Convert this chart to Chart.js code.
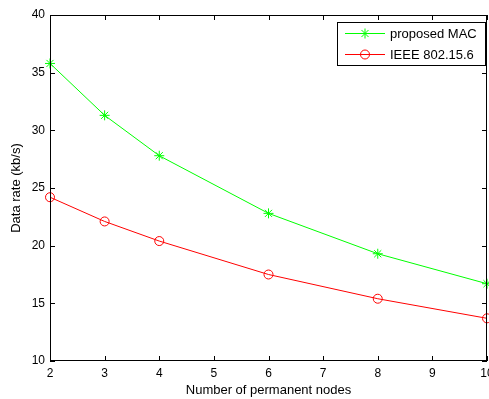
<html>
<head>
<script src="https://cdn.jsdelivr.net/npm/chart.js"></script>
</head>
<body style="margin:0;overflow:hidden;background:#fff">
<canvas id="myChart" width="510" height="399" style="display:block"></canvas>
<script>
  // data rate vs number of permanent nodes
  const nodes = [2, 3, 4, 6, 8, 10];
  const proposedMac = [35.8, 31.3, 27.8, 22.8, 19.3, 16.7];
  const ieee = [24.2, 22.1, 20.4, 17.5, 15.4, 13.7];
  const seriesLabels = ['proposed MAC', 'IEEE 802.15.6'];
  const seriesColors = ['#00ff00', '#ff0000'];
  const seriesMarkers = ['star', 'circle'];

  const family = '"Liberation Sans", Arial, sans-serif';
  const tickFont = {family: family, size: 12};
  const titleFont = {family: family, size: 13};

  // matlab style box with inward ticks on all four sides
  const boxPlugin = {
    id: 'box',
    afterDraw(chart) {
      const c = chart.ctx, a = chart.chartArea;
      const xs = chart.scales.x, ys = chart.scales.y;
      c.save();
      c.strokeStyle = '#000';
      c.lineWidth = 1;
      c.strokeRect(a.left + 0.5, a.top + 0.5, a.right - a.left - 1, a.bottom - a.top - 1);
      c.beginPath();
      xs.ticks.forEach(t => {
        let px = Math.round(xs.getPixelForValue(t.value)) + 0.5;
        c.moveTo(px, a.bottom); c.lineTo(px, a.bottom - 5);
        c.moveTo(px, a.top); c.lineTo(px, a.top + 5);
      });
      ys.ticks.forEach(t => {
        let py = Math.round(ys.getPixelForValue(t.value)) + 0.5;
        c.moveTo(a.left, py); c.lineTo(a.left + 5, py);
        c.moveTo(a.right, py); c.lineTo(a.right - 5, py);
      });
      c.stroke();
      c.restore();
    }
  };

  const legendPlugin = {
    id: 'boxLegend',
    afterDraw(chart) {
      const c = chart.ctx, a = chart.chartArea;
      const w = 148, h = 43;
      const x0 = a.right - w - 2, y0 = a.top + 7;
      c.save();
      c.fillStyle = '#fff';
      c.fillRect(x0, y0, w, h);
      c.strokeStyle = '#000';
      c.lineWidth = 1;
      c.strokeRect(x0 + 0.5, y0 + 0.5, w, h);
      c.font = '13px ' + family;
      c.textBaseline = 'middle';
      chart.data.datasets.forEach((ds, i) => {
        const ly = y0 + 11 + i * 21;
        c.strokeStyle = ds.borderColor;
        c.fillStyle = 'rgba(0,0,0,0)';
        c.beginPath();
        c.moveTo(x0 + 8, ly + 0.5); c.lineTo(x0 + 48, ly + 0.5);
        c.stroke();
        Chart.helpers.drawPoint(c, {
          pointStyle: ds.pointStyle, radius: ds.pointRadius, borderWidth: 1, rotation: 0
        }, x0 + 28, ly + 0.5);
        c.fillStyle = '#000';
        c.fillText(ds.label, x0 + 53, ly + 1);
      });
      c.restore();
    }
  };

  const datasets = [proposedMac, ieee].map((vals, i) => ({
    label: seriesLabels[i],
    data: nodes.map((n, j) => ({x: n, y: vals[j]})),
    borderColor: seriesColors[i],
    backgroundColor: 'rgba(0,0,0,0)',
    pointStyle: seriesMarkers[i],
    pointRadius: i === 0 ? 5 : 4.5,
    pointBorderWidth: 1,
    borderWidth: 1,
    tension: 0,
    clip: false
  }));

  new Chart(document.getElementById('myChart'), {
    type: 'line',
    data: {datasets: datasets},
    plugins: [boxPlugin, legendPlugin],
    options: {
      responsive: false,
      animation: false,
      layout: {padding: {top: 15, right: 23, left: 0, bottom: 0}},
      plugins: {legend: {display: false}, tooltip: {enabled: false}},
      scales: {
        x: {
          type: 'linear', min: 2, max: 10,
          afterFit: s => { s.height = 38; },
          grid: {display: false, drawTicks: false},
          border: {display: false},
          ticks: {stepSize: 1, color: '#000', font: tickFont, padding: 5, maxRotation: 0},
          title: {display: true, text: 'Number of permanent nodes', color: '#000', font: titleFont, padding: {top: 0, bottom: 1}}
        },
        y: {
          min: 10, max: 40,
          afterFit: s => { s.width = 50; },
          grid: {display: false, drawTicks: false},
          border: {display: false},
          ticks: {stepSize: 5, color: '#000', font: tickFont, padding: 5},
          title: {display: true, text: 'Data rate (kb/s)', color: '#000', font: titleFont, padding: {top: 9, bottom: 0}}
        }
      }
    }
  });
</script>
</body>
</html>
